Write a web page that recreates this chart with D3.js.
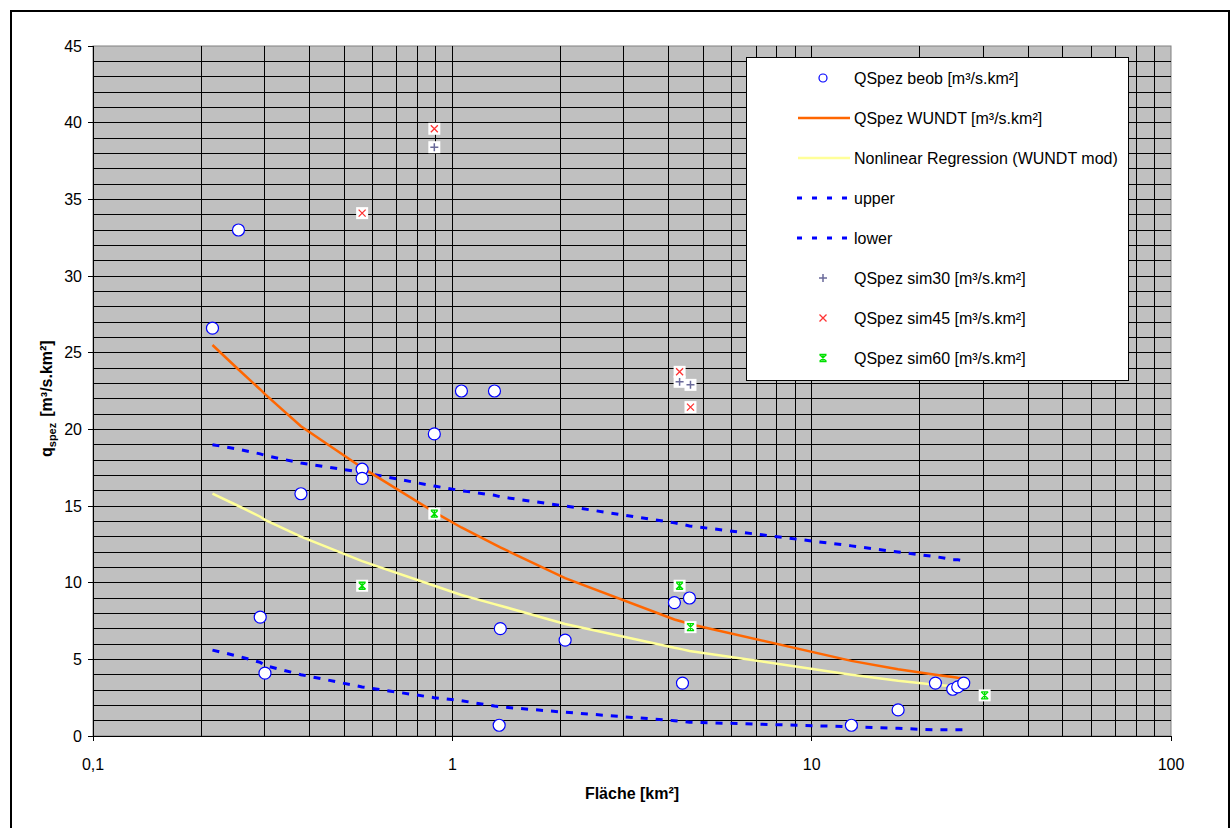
<!DOCTYPE html>
<html>
<head>
<meta charset="utf-8">
<script src="https://cdn.jsdelivr.net/npm/d3@7"></script>
<style>
  body { margin: 0; background: #fff; }
  svg { display: block; font-family: "Liberation Sans", Arial, sans-serif; }
</style>
</head>
<body>
<div id="chart"></div>
<script>
// ---- data ----
const areaBeob = [0.215, 0.254, 0.292, 0.301, 0.379, 0.561, 0.561, 0.891, 1.06, 1.31, 1.36, 1.35, 2.06, 4.15, 4.37, 4.57, 12.9, 17.4, 22.1, 24.7, 25.5, 26.5];
const qBeob    = [26.6, 33.0, 7.75, 4.1, 15.8, 17.4, 16.8, 19.7, 22.5, 22.5, 7.0, 0.7, 6.25, 8.7, 3.45, 9.0, 0.7, 1.7, 3.45, 3.05, 3.2, 3.45];

const areaCurve  = [0.215, 0.254, 0.292, 0.301, 0.379, 0.561, 0.891, 1.06, 1.31, 1.36, 2.06, 4.15, 4.37, 4.57, 12.9, 17.4, 22.1, 24.7, 25.5, 26.5];
const qWundt     = [25.5, 23.9, 22.6, 22.3, 20.2, 17.5, 14.6, 13.6, 12.5, 12.3, 10.3, 7.6, 7.45, 7.3, 4.9, 4.35, 4.0, 3.85, 3.8, 3.75];
const qRegr      = [15.8, 15.0, 14.3, 14.1, 13.0, 11.4, 9.8, 9.2, 8.6, 8.5, 7.3, 5.75, 5.65, 5.55, 4.0, 3.6, 3.35, 3.25, 3.2, 3.15];
const qUpper     = [19.0, 18.7, 18.4, 18.3, 17.8, 17.2, 16.3, 16.0, 15.7, 15.6, 15.0, 13.9, 13.8, 13.7, 12.4, 12.0, 11.7, 11.5, 11.5, 11.4];
const qLower     = [5.6, 5.2, 4.8, 4.6, 4.0, 3.2, 2.5, 2.3, 1.95, 1.9, 1.55, 1.0, 0.95, 0.9, 0.6, 0.5, 0.4, 0.4, 0.4, 0.4];

const areaSim30 = [0.891, 4.29, 4.6];
const qSim30    = [38.4, 23.1, 22.9];
const areaSim45 = [0.561, 0.891, 4.29, 4.6];
const qSim45    = [34.1, 39.6, 23.75, 21.45];
const areaSim60 = [0.561, 0.891, 4.29, 4.6, 30.3];
const qSim60    = [9.8, 14.5, 9.8, 7.1, 2.65];

const xTickLabels = ["0,1", "1", "10", "100"];
const yTicks = [0, 5, 10, 15, 20, 25, 30, 35, 40, 45];
const legendLabels = [
  "QSpez beob [m³/s.km²]",
  "QSpez WUNDT [m³/s.km²]",
  "Nonlinear Regression (WUNDT mod)",
  "upper",
  "lower",
  "QSpez sim30 [m³/s.km²]",
  "QSpez sim45 [m³/s.km²]",
  "QSpez sim60 [m³/s.km²]"
];

const W = 1231, H = 828;
const svg = d3.select("#chart").append("svg").attr("width", W).attr("height", H);

// outer frame
svg.append("rect").attr("x", 11).attr("y", 11).attr("width", 1218).attr("height", 830)
  .attr("fill", "none").attr("stroke", "#000").attr("stroke-width", 2);

const x = d3.scaleLog().domain([0.1, 100]).range([93, 1171]);
const y = d3.scaleLinear().domain([0, 45]).range([736, 46]);

// plot area
svg.append("rect").attr("x", x(0.1)).attr("y", y(45))
  .attr("width", x(100) - x(0.1)).attr("height", y(0) - y(45))
  .attr("fill", "#c0c0c0").attr("stroke", "#808080").attr("stroke-width", 1);

// grid
const grid = svg.append("g").attr("stroke", "#000").attr("stroke-width", 1).attr("shape-rendering", "crispEdges");
d3.range(1, 45).forEach(v => {
  grid.append("line").attr("x1", x(0.1)).attr("x2", x(100)).attr("y1", y(v)).attr("y2", y(v));
});
x.ticks().filter(v => v > 0.1 && v < 100).forEach(v => {
  grid.append("line").attr("x1", x(v)).attr("x2", x(v)).attr("y1", y(0)).attr("y2", y(45));
});

// axes
const axes = svg.append("g").attr("stroke", "#000").attr("stroke-width", 1).attr("shape-rendering", "crispEdges");
axes.append("line").attr("x1", x(0.1)).attr("x2", x(0.1)).attr("y1", y(0)).attr("y2", y(45));
axes.append("line").attr("x1", x(0.1)).attr("x2", x(100)).attr("y1", y(0)).attr("y2", y(0));
yTicks.forEach(v => {
  axes.append("line").attr("x1", x(0.1) - 5).attr("x2", x(0.1)).attr("y1", y(v)).attr("y2", y(v));
  svg.append("text").attr("x", 82).attr("y", y(v)).attr("dy", "0.36em")
    .attr("text-anchor", "end").attr("font-size", 16).attr("fill", "#000").text(v);
});
[0.1, 1, 10, 100].forEach((v, i) => {
  axes.append("line").attr("x1", x(v)).attr("x2", x(v)).attr("y1", y(0)).attr("y2", y(0) + 5);
  svg.append("text").attr("x", x(v)).attr("y", 770)
    .attr("text-anchor", "middle").attr("font-size", 16).attr("fill", "#000").text(xTickLabels[i]);
});

// axis titles
svg.append("text").attr("x", 632).attr("y", 799).attr("text-anchor", "middle")
  .attr("font-size", 16).attr("font-weight", "bold").text("Fläche [km²]");
const yt = svg.append("text").attr("transform", "translate(52,457) rotate(-90)")
  .attr("text-anchor", "start").attr("font-size", 16).attr("font-weight", "bold");
yt.append("tspan").text("q");
yt.append("tspan").attr("font-size", 11).attr("dy", 4).text("spez");
yt.append("tspan").attr("dy", -4).attr("dx", 6).text("[m³/s.km²]");

// lines
const line = d3.line().x(d => x(d[0])).y(d => y(d[1]));
const zip = (a, b) => a.map((v, i) => [v, b[i]]);
svg.append("path").datum(zip(areaCurve, qUpper)).attr("d", line)
  .attr("fill", "none").attr("stroke", "#0000ff").attr("stroke-width", 3).attr("stroke-dasharray", "7,8");
svg.append("path").datum(zip(areaCurve, qLower)).attr("d", line)
  .attr("fill", "none").attr("stroke", "#0000ff").attr("stroke-width", 3).attr("stroke-dasharray", "7,8");
svg.append("path").datum(zip(areaCurve, qRegr)).attr("d", line)
  .attr("fill", "none").attr("stroke", "#ffff99").attr("stroke-width", 2.5);
svg.append("path").datum(zip(areaCurve, qWundt)).attr("d", line)
  .attr("fill", "none").attr("stroke", "#ff6600").attr("stroke-width", 2.5);

// marker helpers
function circleMarker(g, cx, cy, r) {
  g.append("circle").attr("cx", cx).attr("cy", cy).attr("r", r)
    .attr("fill", "#fff").attr("stroke", "#0000ff").attr("stroke-width", 1.2);
}
function boxed(g, cx, cy) {
  g.append("rect").attr("x", cx - 6).attr("y", cy - 6).attr("width", 12).attr("height", 12).attr("fill", "#fff");
}
function plusMarker(g, cx, cy, bg) {
  if (bg) boxed(g, cx, cy);
  g.append("path").attr("d", `M${cx - 4},${cy}H${cx + 4}M${cx},${cy - 4}V${cy + 4}`)
    .attr("stroke", "#6a6a9a").attr("stroke-width", 1.5).attr("fill", "none");
}
function crossMarker(g, cx, cy, bg) {
  if (bg) boxed(g, cx, cy);
  g.append("path").attr("d", `M${cx - 3.5},${cy - 3.5}L${cx + 3.5},${cy + 3.5}M${cx + 3.5},${cy - 3.5}L${cx - 3.5},${cy + 3.5}`)
    .attr("stroke", "#ff3333").attr("stroke-width", 1.3).attr("fill", "none");
}
function starMarker(g, cx, cy, bg) {
  if (bg) boxed(g, cx, cy);
  g.append("path").attr("d", `M${cx - 3.5},${cy - 3.5}L${cx + 3.5},${cy + 3.5}M${cx + 3.5},${cy - 3.5}L${cx - 3.5},${cy + 3.5}` +
    `M${cx - 3.5},${cy - 3.5}H${cx + 3.5}M${cx - 3.5},${cy + 3.5}H${cx + 3.5}M${cx},${cy - 3.5}V${cy + 3.5}`)
    .attr("stroke", "#00e000").attr("stroke-width", 1.3).attr("fill", "none");
}

const marks = svg.append("g");
areaBeob.forEach((a, i) => circleMarker(marks, x(a), y(qBeob[i]), 6));
areaSim30.forEach((a, i) => plusMarker(marks, x(a), y(qSim30[i]), true));
areaSim45.forEach((a, i) => crossMarker(marks, x(a), y(qSim45[i]), true));
areaSim60.forEach((a, i) => starMarker(marks, x(a), y(qSim60[i]), true));

// legend
const lg = svg.append("g");
lg.append("rect").attr("x", 746.5).attr("y", 57.5).attr("width", 382).attr("height", 323)
  .attr("fill", "#fff").attr("stroke", "#000").attr("stroke-width", 1);
legendLabels.forEach((label, i) => {
  const ly = 78 + i * 40;
  const sx = 823;
  if (i === 0) circleMarker(lg, sx, ly, 4);
  if (i === 1) lg.append("line").attr("x1", 798).attr("x2", 850).attr("y1", ly).attr("y2", ly).attr("stroke", "#ff6600").attr("stroke-width", 2.5);
  if (i === 2) lg.append("line").attr("x1", 798).attr("x2", 850).attr("y1", ly).attr("y2", ly).attr("stroke", "#ffff99").attr("stroke-width", 2.5);
  if (i === 3 || i === 4) lg.append("line").attr("x1", 797).attr("x2", 850).attr("y1", ly).attr("y2", ly)
    .attr("stroke", "#0000ff").attr("stroke-width", 3).attr("stroke-dasharray", "5,10");
  if (i === 5) plusMarker(lg, sx, ly, false);
  if (i === 6) crossMarker(lg, sx, ly, false);
  if (i === 7) starMarker(lg, sx, ly, false);
  lg.append("text").attr("x", 854).attr("y", ly).attr("dy", "0.36em")
    .attr("font-size", 16).attr("fill", "#000").text(label);
});
</script>
</body>
</html>
